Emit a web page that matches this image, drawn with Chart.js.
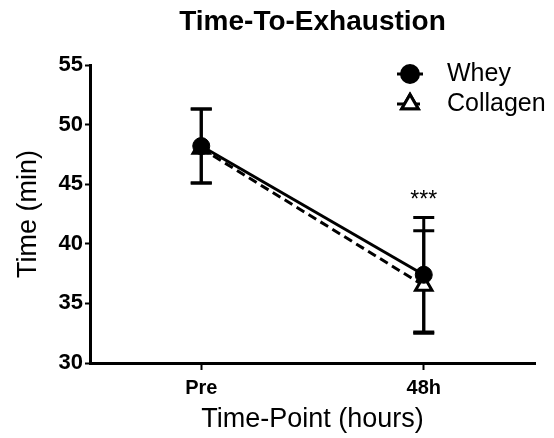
<!DOCTYPE html>
<html>
<head>
<meta charset="utf-8">
<title>Time-To-Exhaustion</title>
<script src="https://cdn.jsdelivr.net/npm/chart.js@4"></script>
<style>
  body { margin: 0; background: #fff; }
  #wrap { width: 554px; height: 438px; }
</style>
</head>
<body>
<div id="wrap"><canvas id="chart"></canvas></div>
<script>
const categories = ['Pre', '48h'];
const wheyMean = [48.2, 37.4];
const wheyHigh = [51.3, 42.2];
const wheyLow = [45.1, 32.6];
const collagenMean = [48.0, 36.5];
const collagenHigh = [51.3, 41.1];
const collagenLow = [45.1, 32.5];
const sigMarks = ['', '***'];
const yTicks = [30, 35, 40, 45, 50, 55];
const titleText = 'Time-To-Exhaustion';

const FONT = '"Liberation Sans", Arial, sans-serif';

// error bars go under the lines and markers
const errorBars = {
  id: 'errorBars',
  beforeDatasetsDraw(chart) {
    const ctx = chart.ctx;
    const y = chart.scales.y;
    chart.data.datasets.forEach((ds, i) => {
      const meta = chart.getDatasetMeta(i);
      meta.data.forEach((pt, j) => {
        const top = y.getPixelForValue(ds.errHigh[j]);
        const bot = y.getPixelForValue(ds.errLow[j]);
        ctx.save();
        ctx.strokeStyle = '#000';
        ctx.lineWidth = 3;
        ctx.beginPath();
        ctx.moveTo(pt.x, top);
        ctx.lineTo(pt.x, bot);
        ctx.moveTo(pt.x - 10.5, top);
        ctx.lineTo(pt.x + 10.5, top);
        ctx.moveTo(pt.x - 10.5, bot);
        ctx.lineTo(pt.x + 10.5, bot);
        ctx.stroke();
        ctx.restore();
      });
    });
  }
};

// significance stars above the whey error bar
const stars = {
  id: 'stars',
  afterDatasetsDraw(chart) {
    const ctx = chart.ctx;
    const meta = chart.getDatasetMeta(0);
    const y = chart.scales.y;
    ctx.save();
    ctx.fillStyle = '#000';
    ctx.font = '23px ' + FONT;
    ctx.textAlign = 'center';
    ctx.textBaseline = 'alphabetic';
    sigMarks.forEach((m, j) => {
      if (!m) return;
      ctx.fillText(m, meta.data[j].x, y.getPixelForValue(wheyHigh[j]) - 11);
    });
    ctx.restore();
  }
};

// title centred over the plot area, like GraphPad does
const plotTitle = {
  id: 'plotTitle',
  afterDraw(chart) {
    const ctx = chart.ctx;
    const a = chart.chartArea;
    ctx.save();
    ctx.fillStyle = '#000';
    ctx.font = 'bold 28px ' + FONT;
    ctx.textAlign = 'center';
    ctx.textBaseline = 'middle';
    ctx.fillText(titleText, (a.left + a.right) / 2, 22);
    ctx.restore();
  }
};

// legend drawn like the GraphPad one: line through marker
const sideLegend = {
  id: 'sideLegend',
  afterDraw(chart) {
    const ctx = chart.ctx;
    const right = chart.chartArea.right;
    const rows = [74, 104];
    chart.data.datasets.forEach((ds, i) => {
      const cy = rows[i];
      const x0 = right - 138, x1 = right - 112, cx = right - 125;
      ctx.save();
      ctx.strokeStyle = '#000';
      ctx.lineWidth = 3;
      ctx.setLineDash(ds.borderDash || []);
      ctx.beginPath();
      ctx.moveTo(x0, cy);
      ctx.lineTo(x1, cy);
      ctx.stroke();
      ctx.setLineDash([]);
      Chart.helpers.drawPoint(ctx, {
        pointStyle: ds.pointStyle,
        radius: ds.pointRadius,
        borderWidth: ds.pointBorderWidth
      }, cx, cy);
      ctx.fillStyle = ds.pointBackgroundColor;
      ctx.lineWidth = ds.pointBorderWidth;
      ctx.fill();
      ctx.stroke();
      ctx.fillStyle = '#000';
      ctx.font = '25px ' + FONT;
      ctx.textAlign = 'left';
      ctx.textBaseline = 'middle';
      ctx.fillText(ds.label, right - 88, cy);
      ctx.restore();
    });
  }
};

new Chart(document.getElementById('chart'), {
  type: 'line',
  data: {
    labels: categories,
    datasets: [
      {
        label: 'Whey',
        data: wheyMean,
        errHigh: wheyHigh,
        errLow: wheyLow,
        borderColor: '#000',
        borderWidth: 3,
        pointStyle: 'circle',
        pointRadius: 8.5,
        pointBackgroundColor: '#000',
        pointBorderColor: '#000',
        pointBorderWidth: 1
      },
      {
        label: 'Collagen',
        data: collagenMean,
        errHigh: collagenHigh,
        errLow: collagenLow,
        borderColor: '#000',
        borderWidth: 3,
        borderDash: [9, 5],
        pointStyle: 'triangle',
        pointRadius: 9.5,
        pointBackgroundColor: '#fff',
        pointBorderColor: '#000',
        pointBorderWidth: 3
      }
    ]
  },
  options: {
    responsive: true,
    maintainAspectRatio: false,
    animation: false,
    layout: { padding: { left: 0, right: 19, top: 65, bottom: 0 } },
    plugins: {
      legend: { display: false },
      tooltip: { enabled: false },
      title: { display: false }
    },
    scales: {
      x: {
        type: 'category',
        offset: true,
        afterFit(scale) { scale.height = 75; },
        grid: {
          drawOnChartArea: false,
          color: '#000',
          tickLength: 7,
          tickWidth: 2,
          offset: false
        },
        border: { color: '#000', width: 3 },
        ticks: {
          color: '#000',
          padding: 6,
          font: { family: FONT, size: 20, weight: 'bold' }
        },
        title: {
          display: true,
          text: 'Time-Point (hours)',
          color: '#000',
          font: { family: FONT, size: 27 },
          padding: { top: 0, bottom: 2 }
        }
      },
      y: {
        min: 30,
        max: 55,
        afterFit(scale) { scale.width = 90; },
        afterBuildTicks(scale) { scale.ticks = yTicks.map(v => ({ value: v })); },
        grid: {
          drawOnChartArea: false,
          color: '#000',
          tickLength: 5,
          tickWidth: 2
        },
        border: { color: '#000', width: 3 },
        ticks: {
          color: '#000',
          padding: 2,
          font: { family: FONT, size: 22, weight: 'bold' }
        },
        title: {
          display: true,
          text: 'Time (min)',
          color: '#000',
          font: { family: FONT, size: 27 },
          padding: { top: 12, bottom: 0 }
        }
      }
    }
  },
  plugins: [errorBars, stars, plotTitle, sideLegend]
});
</script>
</body>
</html>
